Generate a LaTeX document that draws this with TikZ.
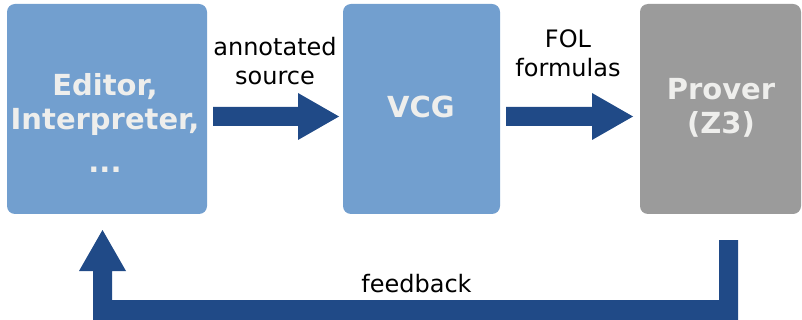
\documentclass[tikz,border=0pt]{standalone}
\usepackage{fontspec}
\setmainfont{DejaVu Sans}
\definecolor{boxblue}{HTML}{729FCF}
\definecolor{boxgrey}{HTML}{9B9B9B}
\definecolor{arrblue}{HTML}{204A87}
\definecolor{boxtext}{HTML}{EEEEEC}
\tikzset{
  blk/.style={fill=boxblue, rounded corners=8pt, inner sep=0pt},
  btxt/.style={text=boxtext, font=\fontsize{29}{34}\selectfont\bfseries, align=center, inner sep=0pt, anchor=base},
  lbl/.style={font=\fontsize{24}{29}\selectfont, align=center, text=black, inner sep=0pt, anchor=base},
  barrow/.style={fill=arrblue, draw=none}
}
\begin{document}
\begin{tikzpicture}[x=1pt,y=-1pt]
\useasboundingbox (0,0) rectangle (802,320);
% boxes
\fill[blk] (7,4) rectangle (207,214);
\fill[blk] (343,4) rectangle (500,214);
\fill[blk,fill=boxgrey] (640,4) rectangle (801,214);
\node[btxt] (ed) at (105,173) {Editor,\\Interpreter,\\[9pt]...};
\node[btxt] (vcg) at (421,118) {VCG};
\node[btxt] (pr) at (721,134) {Prover\\(Z3)};
% arrows
\fill[barrow] (213,107) -- (298,107) -- (298,93) -- (339,116.5) -- (298,140) -- (298,126) -- (213,126) -- cycle;
\fill[barrow] (506,107) -- (592,107) -- (592,93) -- (633,116.5) -- (592,140) -- (592,126) -- (506,126) -- cycle;
\fill[barrow] (719,240) -- (738,240) -- (738,320) -- (93,320) -- (93,271) -- (79,271) -- (102.5,230) -- (126,271) -- (112,271) -- (112,300) -- (719,300) -- cycle;
% labels
\node[lbl] (l1) at (275,85) {annotated\\source};
\node[lbl] (l2) at (568,77) {FOL\\formulas};
\node[lbl] (l3) at (416.5,292) {feedback};
\end{tikzpicture}
\end{document}
